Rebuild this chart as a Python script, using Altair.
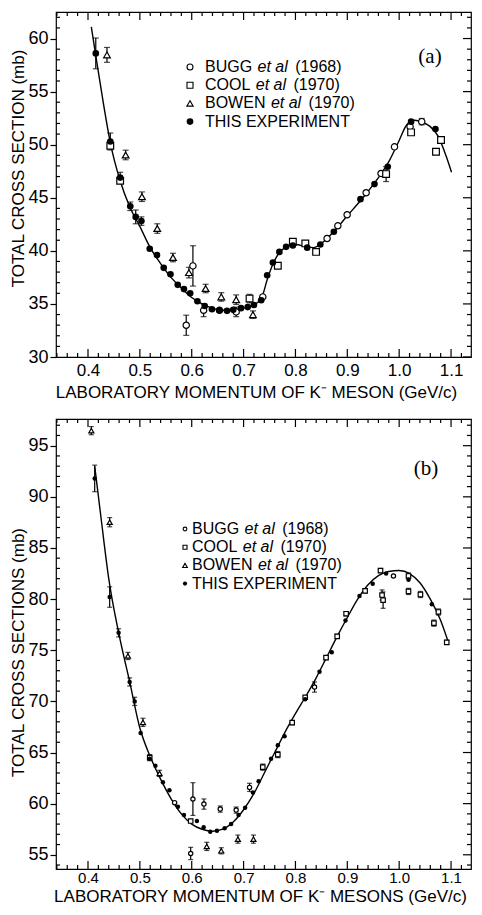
import altair as alt
import pandas as pd

# ------------------------- Panel (a) data -------------------------
A_THIS_P = [0.415, 0.443, 0.462, 0.4815, 0.492, 0.503, 0.519, 0.533, 0.546, 0.559, 0.573, 0.585,
            0.597, 0.611, 0.625, 0.639, 0.653, 0.668, 0.680, 0.695, 0.708, 0.720, 0.734, 0.7455,
            0.7565, 0.769, 0.782, 0.795, 0.8226, 0.848, 0.874, 0.9254, 0.9524, 0.978, 1.023, 1.070]
A_THIS_V = [58.6, 50.3, 46.9, 44.2, 43.2, 42.8, 40.2, 39.6, 38.4, 37.8, 36.8, 36.4,
            36.0, 35.25, 34.8, 34.5, 34.4, 34.35, 34.45, 34.6, 34.7, 34.9, 35.35, 37.7,
            38.9, 39.9, 40.38, 40.5, 40.3, 40.6, 41.8, 44.87, 46.29, 47.92, 52.17, 51.48]
A_THIS_E = [1.45, 0.8, 0.5, 0.4, 0.65, 0.4, 0, 0, 0, 0, 0, 0,
            0, 0, 0, 0, 0, 0, 0, 0, 0, 0, 0, 0,
            0, 0, 0, 0, 0, 0, 0, 0, 0, 0, 0, 0]

A_BUGG_P = [0.5894, 0.6023, 0.623, 0.6537, 0.6857, 0.737, 0.861, 0.8817, 0.8997, 0.9363, 0.965, 0.991, 1.021, 1.0435]
A_BUGG_V = [32.99, 38.58, 34.4, 34.4, 34.25, 35.66, 41.16, 42.36, 43.4, 45.47, 47.29, 49.8, 51.7, 52.17]
A_BUGG_E = [0.95, 1.9, 0.6, 0, 0.45, 0, 0, 0, 0, 0, 0, 0, 0, 0.3]

A_COOL_P = [0.443, 0.462, 0.7115, 0.766, 0.795, 0.819, 0.8398, 0.9748, 1.023, 1.071, 1.0807]
A_COOL_V = [49.9, 46.6, 35.5, 38.6, 40.85, 40.7, 39.9, 47.23, 51.16, 49.34, 50.44]
A_COOL_E = [0, 0, 0.4, 0, 0, 0, 0, 0.7, 0, 0, 0]

A_BOWEN_P = [0.4366, 0.4726, 0.504, 0.5336, 0.5638, 0.5946, 0.6268, 0.657, 0.6857, 0.718]
A_BOWEN_V = [58.46, 49.03, 45.1, 42.1, 39.37, 37.95, 36.45, 35.66, 35.4, 33.99]
A_BOWEN_E = [0.7, 0.45, 0.45, 0.45, 0.4, 0.5, 0.4, 0.4, 0.45, 0.35]

A_FIT_P = [0.4064, 0.415, 0.43, 0.443, 0.462, 0.48, 0.50, 0.52, 0.54, 0.56, 0.58, 0.60, 0.62, 0.64,
           0.66, 0.68, 0.70, 0.72, 0.735, 0.745, 0.757, 0.77, 0.785, 0.80, 0.82, 0.835, 0.85, 0.87,
           0.90, 0.93, 0.96, 0.98, 1.00, 1.015, 1.03, 1.045, 1.06, 1.075, 1.09, 1.101]
A_FIT_V = [61.1, 58.4, 53.8, 50.2, 46.6, 44.2, 42.3, 40.3, 38.8, 37.5, 36.5, 35.6, 35.0, 34.6,
           34.4, 34.4, 34.6, 34.9, 35.6, 37.2, 38.8, 39.9, 40.4, 40.6, 40.4, 40.3, 40.7, 41.6,
           43.3, 45.0, 46.9, 48.4, 50.4, 51.9, 52.3, 52.1, 51.7, 50.8, 49.0, 47.4]

# ------------------------- Panel (b) data -------------------------
B_THIS_P = [0.4129, 0.4418, 0.459, 0.4803, 0.490, 0.5015, 0.519, 0.530, 0.5445, 0.557, 0.5734, 0.585,
            0.610, 0.623, 0.6357, 0.6486, 0.6634, 0.676, 0.6903, 0.703, 0.718, 0.729, 0.753, 0.766,
            0.779, 0.8188, 0.8464, 0.870, 0.8965, 0.9235, 0.949, 0.9748, 1.018, 1.063]
B_THIS_V = [91.8, 80.2, 76.7, 71.9, 70.0, 66.9, 64.4, 63.7, 62.1, 61.3, 59.7, 58.9,
            58.3, 57.7, 57.25, 57.35, 57.6, 58.0, 58.9, 59.6, 61.1, 62.2, 64.4, 65.7,
            66.6, 70.2, 72.9, 74.8, 77.9, 80.3, 81.5, 82.5, 81.9, 79.5]
B_THIS_E = [1.3, 1.0, 0.4, 0.4, 0.4, 0, 0, 0, 0, 0, 0, 0,
            0, 0, 0, 0, 0, 0, 0, 0, 0, 0, 0, 0,
            0, 0, 0, 0, 0, 0, 0, 0, 0, 0]

B_BUGG_P = [0.567, 0.598, 0.6023, 0.6235, 0.655, 0.6857, 0.7115, 0.8368, 0.989]
B_BUGG_V = [60.1, 55.13, 60.45, 59.96, 59.47, 59.37, 61.59, 71.4, 82.26]
B_BUGG_E = [0, 0.6, 1.6, 0.5, 0.3, 0.3, 0.4, 0.5, 0]

B_COOL_P = [0.519, 0.598, 0.737, 0.766, 0.7937, 0.8188, 0.859, 0.8805, 0.8977, 0.9343, 0.964,
            0.967, 0.969, 1.018, 1.018, 1.041, 1.067, 1.0757, 1.0917]
B_COOL_V = [64.5, 58.3, 63.57, 64.8, 67.92, 70.4, 74.28, 76.36, 78.57, 80.81, 82.79,
            80.4, 79.9, 82.26, 80.75, 80.45, 77.65, 78.74, 75.77]
B_COOL_E = [0.3, 0, 0.3, 0.3, 0.2, 0, 0.2, 0.2, 0.2, 0.2, 0.2,
            0.5, 0.8, 0.3, 0.3, 0.3, 0.3, 0.3, 0.2]

B_BOWEN_P = [0.4064, 0.4418, 0.477, 0.506, 0.538, 0.629, 0.657, 0.689, 0.719]
B_BOWEN_V = [96.47, 87.52, 74.44, 67.95, 62.96, 55.82, 55.39, 56.53, 56.53]
B_BOWEN_E = [0.4, 0.45, 0.35, 0.4, 0.3, 0.4, 0.3, 0.4, 0.4]

B_FIT_P = [0.4129, 0.425, 0.44, 0.46, 0.48, 0.50, 0.52, 0.54, 0.56, 0.58, 0.60, 0.62, 0.64, 0.66,
           0.68, 0.70, 0.72, 0.74, 0.76, 0.78, 0.80, 0.82, 0.84, 0.86, 0.88, 0.90, 0.92, 0.94,
           0.96, 0.98, 1.00, 1.02, 1.04, 1.06, 1.08, 1.094]
B_FIT_V = [93.0, 88.0, 82.0, 76.5, 72.0, 67.4, 64.6, 62.4, 60.5, 59.0, 58.0, 57.5, 57.3, 57.5,
           58.2, 59.4, 61.0, 63.0, 65.0, 67.0, 68.8, 70.5, 72.3, 74.3, 76.3, 78.2, 80.0, 81.4,
           82.3, 82.7, 82.8, 82.5, 81.6, 80.0, 77.9, 75.9]

# ------------------------- tick values / labels -------------------------
X_MAJOR = [0.4, 0.5, 0.6, 0.7, 0.8, 0.9, 1.0, 1.1]
X_MINOR = [round(0.34 + 0.02 * i, 2) for i in range(41)]
X_MINOR = [x for x in X_MINOR if abs(x * 10 - round(x * 10)) > 1e-6 and 0.339 < x < 1.14]
A_Y_MAJOR = [30, 35, 40, 45, 50, 55, 60]
A_Y_MINOR = [y for y in range(31, 63) if y % 5]
B_Y_MAJOR = [55, 60, 65, 70, 75, 80, 85, 90, 95]
B_Y_MINOR = [y for y in range(54, 98) if y % 5]

SOURCES = ["BUGG", "COOL", "BOWEN", "THIS"]
LEGEND_ROWS = [("BUGG", "et al", "(1968)"), ("COOL", "et al", "(1970)"),
               ("BOWEN", "et al", "(1970)"), ("THIS EXPERIMENT", "", "")]

FONT = "Liberation Sans"
LEG_FS = 16
X_DOMAIN = [0.3383, 1.1385]

CW = {" ": 278, "(": 333, ")": 333, "B": 667, "U": 722, "G": 778, "C": 722, "O": 778, "L": 556,
      "W": 944, "E": 667, "N": 722, "T": 611, "H": 722, "I": 278, "S": 667, "X": 667, "P": 667,
      "R": 722, "M": 833, "e": 556, "t": 278, "a": 556, "l": 222}


def tw(s, fs):
    return sum(CW.get(c, 556) for c in s) / 1000.0 * fs


def make_df(p, v, e):
    df = pd.DataFrame({"p": p, "v": v, "e": e})
    df["lo"] = df["v"] - df["e"]
    df["hi"] = df["v"] + df["e"]
    return df


def panel(series, fit, ydom, W, H, ymaj, ymin, xtitle, ytitle, tag, tag_xy,
          leg_sym_x, leg_txt_x, leg_ys, msize, legsize, cap, xlab_fs, lab_pad,
          xt_xy, yt_xy):
    xs = alt.Scale(domain=X_DOMAIN, nice=False, zero=False)
    ys = alt.Scale(domain=ydom, nice=False, zero=False)

    ax_x = alt.Axis(orient="bottom", values=X_MAJOR, format=".1f", ticks=False, domain=False,
                    labelPadding=lab_pad, labelFontSize=xlab_fs, labelFlush=False,
                    titleX=xt_xy[0], titleY=xt_xy[1])
    ax_y = alt.Axis(orient="left", values=ymaj, tickSize=6, labelPadding=2, domain=False,
                    titleX=yt_xy[0], titleY=yt_xy[1])

    def X(f):
        return alt.X(f, scale=xs, axis=ax_x, title=xtitle)

    def Y(f):
        return alt.Y(f, scale=ys, axis=ax_y, title=ytitle)

    layers = []
    fit_df = pd.DataFrame({"p": fit[0], "v": fit[1]})
    layers.append(alt.Chart(fit_df).mark_line(color="black", strokeWidth=1.4, interpolate="monotone").encode(
        x=X("p:Q"), y=Y("v:Q")))

    # inward frame ticks (tick values placed through the scales)
    tx_maj = pd.DataFrame({"t": X_MAJOR})
    tx_min = pd.DataFrame({"t": X_MINOR})
    ty_maj = pd.DataFrame({"t": ymaj})
    ty_min = pd.DataFrame({"t": ymin})
    tick = dict(color="black", strokeWidth=1.2)
    for df_, ln in [(tx_maj, 8), (tx_min, 4)]:
        layers.append(alt.Chart(df_).mark_rule(**tick).encode(
            x=X("t:Q"), y=alt.value(H), y2=alt.value(H - ln)))
        layers.append(alt.Chart(df_).mark_rule(**tick).encode(
            x=X("t:Q"), y=alt.value(0), y2=alt.value(ln)))
    for df_, ln in [(ty_maj, 8), (ty_min, 4)]:
        layers.append(alt.Chart(df_).mark_rule(**tick).encode(
            y=Y("t:Q"), x=alt.value(W), x2=alt.value(W - ln)))
    layers.append(alt.Chart(ty_min).mark_rule(**tick).encode(
        y=Y("t:Q"), x=alt.value(0), x2=alt.value(4)))

    dfs = {k: make_df(*series[k]) for k in SOURCES}
    err = pd.concat([dfs[k][dfs[k]["e"] > 0] for k in SOURCES], ignore_index=True)
    layers.append(alt.Chart(err).mark_rule(color="black", strokeWidth=1.2).encode(
        x=X("p:Q"), y=Y("lo:Q"), y2="hi:Q"))
    for col in ["lo", "hi"]:
        layers.append(alt.Chart(err).mark_tick(orient="horizontal", color="black", size=cap, thickness=1.2).encode(
            x=X("p:Q"), y=Y(col + ":Q")))

    shapes = {"BUGG": "circle", "COOL": "square", "BOWEN": "triangle-up"}
    for k in ["BUGG", "COOL", "BOWEN"]:
        layers.append(alt.Chart(dfs[k]).mark_point(shape=shapes[k], filled=True, fill="white", stroke="black",
                                                   strokeWidth=1.2, size=msize[k], opacity=1).encode(
            x=X("p:Q"), y=Y("v:Q")))
    layers.append(alt.Chart(dfs["THIS"]).mark_point(shape="circle", filled=True, fill="black", strokeWidth=0,
                                                    size=msize["THIS"], opacity=1).encode(
        x=X("p:Q"), y=Y("v:Q")))

    dummy = pd.DataFrame({"d": [0]})
    leg_shapes = ["circle", "square", "triangle-up", "circle"]
    for i, (name, etal, year) in enumerate(LEGEND_ROWS):
        yy = leg_ys[i]
        filled = i == 3
        layers.append(alt.Chart(dummy).mark_point(shape=leg_shapes[i], filled=True,
                                                  fill="black" if filled else "white", stroke="black",
                                                  strokeWidth=0 if filled else 1.1, size=legsize[i], opacity=1).encode(
            x=alt.value(leg_sym_x), y=alt.value(yy)))
        layers.append(alt.Chart(dummy).mark_text(text=name, align="left", baseline="middle", font=FONT,
                                                 fontSize=LEG_FS, color="black").encode(
            x=alt.value(leg_txt_x), y=alt.value(yy)))
        if etal:
            x_e = leg_txt_x + tw(name + " ", LEG_FS) + 1
            layers.append(alt.Chart(dummy).mark_text(text=etal, align="left", baseline="middle", font=FONT,
                                                     fontSize=LEG_FS, fontStyle="italic", color="black").encode(
                x=alt.value(x_e), y=alt.value(yy)))
            x_y = x_e + tw(etal + " ", LEG_FS) + 3
            layers.append(alt.Chart(dummy).mark_text(text=year, align="left", baseline="middle", font=FONT,
                                                     fontSize=LEG_FS, color="black").encode(
                x=alt.value(x_y), y=alt.value(yy)))
    layers.append(alt.Chart(dummy).mark_text(text=tag, align="center", baseline="middle",
                                             font="Liberation Serif", fontSize=21, color="black").encode(
        x=alt.value(tag_xy[0]), y=alt.value(tag_xy[1])))

    return alt.layer(*layers).properties(width=W, height=H)


W = 415
pa = panel({"THIS": (A_THIS_P, A_THIS_V, A_THIS_E), "BUGG": (A_BUGG_P, A_BUGG_V, A_BUGG_E),
            "COOL": (A_COOL_P, A_COOL_V, A_COOL_E), "BOWEN": (A_BOWEN_P, A_BOWEN_V, A_BOWEN_E)},
           (A_FIT_P, A_FIT_V), [30, 62.5], W, 345, A_Y_MAJOR, A_Y_MINOR,
           "LABORATORY MOMENTUM OF K\u207b MESON (GeV/c)", "TOTAL CROSS SECTION (mb)",
           "(a)", (374, 45), 134, 149, [55, 73.2, 91.4, 109.6],
           {"BUGG": 40, "COOL": 45, "BOWEN": 45, "THIS": 44}, [36, 36, 40, 44], 6,
           17, 5, (200, 27), (-29, 156))

pb = panel({"THIS": (B_THIS_P, B_THIS_V, B_THIS_E), "BUGG": (B_BUGG_P, B_BUGG_V, B_BUGG_E),
            "COOL": (B_COOL_P, B_COOL_V, B_COOL_E), "BOWEN": (B_BOWEN_P, B_BOWEN_V, B_BOWEN_E)},
           (B_FIT_P, B_FIT_V), [53.61, 97.61], W, 450, B_Y_MAJOR, B_Y_MINOR,
           "LABORATORY MOMENTUM OF K\u207b MESONS (GeV/c)", "TOTAL CROSS SECTIONS (mb)",
           "(b)", (370, 50), 129, 136, [110, 128.2, 146.4, 164.6],
           {"BUGG": 18, "COOL": 20, "BOWEN": 26, "THIS": 20}, [14, 16, 22, 18], 5,
           15, 1, (204, 19), (-29, 233))

chart = alt.vconcat(pa, pb, spacing=16).properties(
    padding={"left": 0, "top": 2, "right": 0, "bottom": 0}
).configure_axis(
    labelFont=FONT, titleFont=FONT, labelFontSize=18, titleFontSize=17, titleFontWeight="normal",
    labelColor="black", titleColor="black", tickColor="black", tickWidth=1.2, grid=False
).configure_view(stroke="black", strokeWidth=1.2)

chart.save("out.html", embed_options={"renderer": "svg", "actions": False})
